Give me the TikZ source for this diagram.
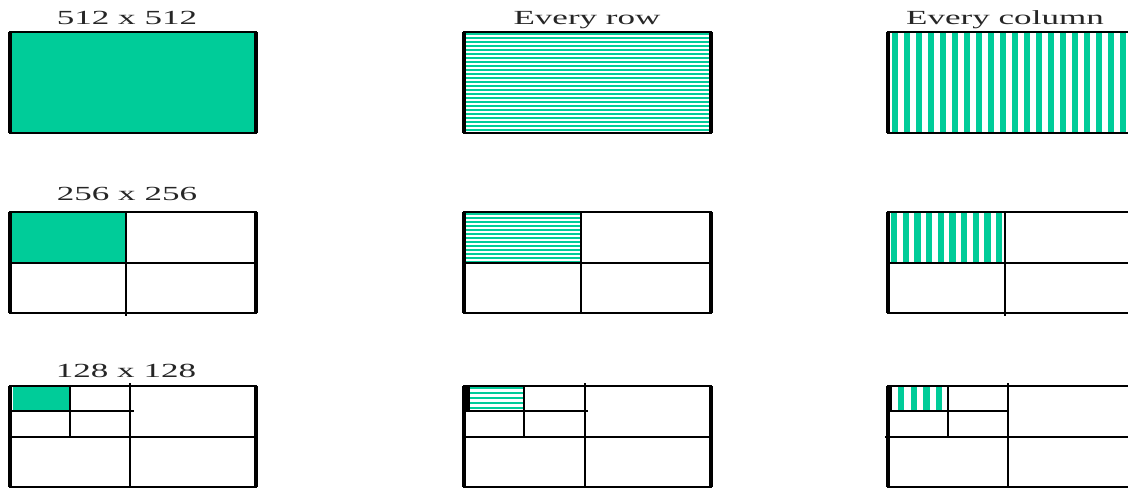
\documentclass[tikz,border=0pt]{standalone}
\usepackage{graphicx}
\usepackage{fontspec}
\setmainfont{Liberation Serif}
\usepackage{tikz}
\usetikzlibrary{positioning}
\colorlet{tealfill}{rgb,255:red,0;green,204;blue,153}
\tikzset{
  panel/.style={draw=black, line width=1.1pt},
  edge/.style={draw=black, line width=1.9pt},
  vsplit/.style={draw=black, line width=1.5pt},
  hsplit/.style={draw=black, line width=1pt},
  hstripe/.style={tealfill, line width=1.6pt},
  vstripe/.style={tealfill, line width=3.6pt},
  caption/.style={anchor=base, text=black!85, font=\fontsize{11.4}{13}\selectfont}
}
\newcommand{\wide}[1]{\scalebox{1.75}[1]{#1}}

\begin{document}
\begin{tikzpicture}[x=0.02cm, y=-0.02cm]
    \useasboundingbox (0,0) rectangle (1128,488);
    \clip (0,0) rectangle (1128,488);

    % captions
    \node[caption] (full) at (127,24) {\wide{512 x 512}};
    \node[caption] (rows) at (587,24) {\wide{Every row}};
    \node[caption] (cols) at (1005,24) {\wide{Every column}};
    \node[caption] (half) at (127,200) {\wide{256 x 256}};
    \node[caption] (quarter) at (126,377) {\wide{128 x 128}};

    % top row: whole image
    \fill[tealfill] (10,32) rectangle (256,133);
    \draw[panel] (10,32) rectangle (256,133);
    \draw[edge] (10,32) -- (10,133) (256,32) -- (256,133);

    \begin{scope}
      \clip (464,32) rectangle (711,133);
      \foreach \y in {34,38,...,134}
        \draw[hstripe] (464,\y) -- (711,\y);
    \end{scope}
    \draw[panel] (464,32) rectangle (711,133);
    \draw[edge] (464,32) -- (464,133) (711,32) -- (711,133);

    \begin{scope}
      \clip (888,32) rectangle (1140,133);
      \foreach \x in {895,907,...,1140}
        \draw[vstripe] (\x,32) -- (\x,133);
    \end{scope}
    \draw[panel] (888,32) rectangle (1140,133);
    \draw[edge] (888,32) -- (888,133);

    % middle row: 256 x 256 blocks
    \fill[tealfill] (10,212) rectangle (126,263);
    \draw[panel] (10,212) rectangle (256,313);
    \draw[edge] (10,212) -- (10,313) (256,212) -- (256,313);
    \draw[vsplit] (126,212) -- (126,316);
    \draw[hsplit] (10,263) -- (256,263);

    \begin{scope}
      \clip (464,212) rectangle (581,263);
      \foreach \y in {214,218,...,263}
        \draw[hstripe] (464,\y) -- (581,\y);
    \end{scope}
    \draw[panel] (464,212) rectangle (711,313);
    \draw[edge] (464,212) -- (464,313) (711,212) -- (711,313);
    \draw[vsplit] (581,212) -- (581,313);
    \draw[hsplit] (464,263) -- (711,263);

    \begin{scope}
      \clip (888,212) rectangle (1005,263);
      \foreach \x in {894,905.7,...,1005}
        \draw[vstripe] (\x,212) -- (\x,263);
    \end{scope}
    \draw[panel] (888,212) rectangle (1140,313);
    \draw[edge] (888,212) -- (888,313);
    \draw[vsplit] (1005,212) -- (1005,316);
    \draw[hsplit] (888,263) -- (1140,263);

    % bottom row: 128 x 128 blocks
    \fill[tealfill] (13,386) rectangle (70,411);
    \draw[panel] (10,386) rectangle (256,487);
    \draw[edge] (10,386) -- (10,487) (256,386) -- (256,487);
    \draw[vsplit] (70,386) -- (70,437);
    \draw[hsplit] (10,411) -- (134,411);
    \draw[vsplit] (130,383) -- (130,488);
    \draw[hsplit] (10,437) -- (256,437);

    \begin{scope}
      \clip (470,386) rectangle (523,411);
      \foreach \y in {388,393,...,411}
        \draw[hstripe] (470,\y) -- (523,\y);
    \end{scope}
    \draw[panel] (464,386) rectangle (711,487);
    \draw[edge] (464,386) -- (464,487) (711,386) -- (711,487);
    \fill (464,386) rectangle (470,411);
    \draw[vsplit] (524,386) -- (524,437);
    \draw[hsplit] (464,411) -- (588,411);
    \draw[vsplit] (585,383) -- (585,488);
    \draw[hsplit] (464,437) -- (711,437);

    \begin{scope}
      \clip (892,386) rectangle (947,411);
      \foreach \x in {901,913.7,...,947}
        \draw[vstripe] (\x,386) -- (\x,411);
    \end{scope}
    \draw[panel] (888,386) rectangle (1140,487);
    \draw[edge] (888,386) -- (888,487);
    \fill (888,386) rectangle (892,411);
    \draw[vsplit] (948,386) -- (948,437);
    \draw[hsplit] (888,411) -- (1008,411);
    \draw[vsplit] (1008,383) -- (1008,488);
    \draw[hsplit] (885,437) -- (1140,437);
\end{tikzpicture}
\end{document}
